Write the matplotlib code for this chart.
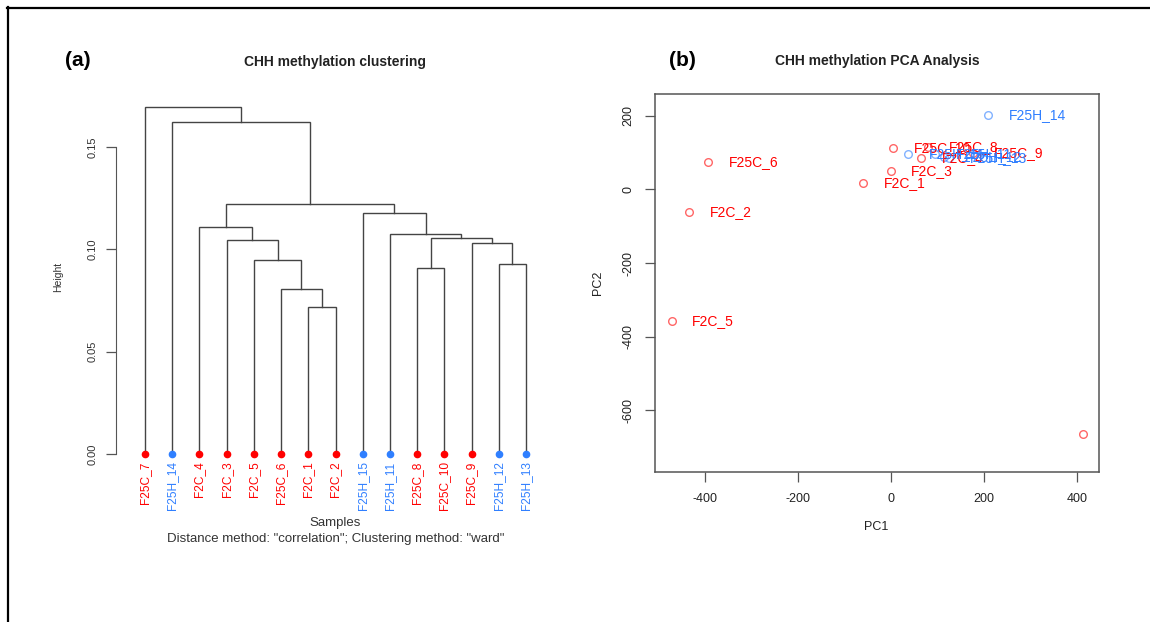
import matplotlib
matplotlib.use("Agg")
import matplotlib.pyplot as plt
from matplotlib.lines import Line2D
from matplotlib.transforms import offset_copy

plt.rcParams['font.family'] = ['Liberation Sans', 'DejaVu Sans']
plt.rcParams['axes.unicode_minus'] = False

W, H = 1150, 622
RED = "#FF0000"
BLUE = "#2F7FFF"

# ---- dendrogram data (leaf order as drawn) ----
leaves = ["F25C_7", "F25H_14", "F2C_4", "F2C_3", "F2C_5", "F25C_6", "F2C_1", "F2C_2",
          "F25H_15", "F25H_11", "F25C_8", "F25C_10", "F25C_9", "F25H_12", "F25H_13"]
leaf_colors = [RED, BLUE, RED, RED, RED, RED, RED, RED,
               BLUE, BLUE, RED, RED, RED, BLUE, BLUE]
# merges: (left, right, height); ints refer to earlier merges
merges = [
    ("F2C_1", "F2C_2", 0.0717),
    ("F25C_6", 0, 0.0806),
    ("F2C_5", 1, 0.0950),
    ("F2C_3", 2, 0.1046),
    ("F2C_4", 3, 0.1111),
    ("F25H_12", "F25H_13", 0.0929),
    ("F25C_8", "F25C_10", 0.0909),
    ("F25C_9", 5, 0.1031),
    (6, 7, 0.1054),
    ("F25H_11", 8, 0.1075),
    ("F25H_15", 9, 0.1176),
    (4, 10, 0.1223),
    ("F25H_14", 11, 0.1621),
    ("F25C_7", 12, 0.1697),
]

# ---- PCA data ----
pc_names = ["F25C_6", "F2C_2", "F2C_5", "F2C_1", "F2C_3", "F25H_14", "F25C_7",
            "F25C_10", "F25C_8", "F2C_4", "F25C_9",
            "F25H_15", "F25H_11", "F25H_12", "F25H_13"]
pc1 = [-394, -434, -472, -60, -1, 209, 413,
       5, 80, 64, 176,
       37, 95, 115, 125]
pc2 = [73, -62, -356, 18, 50, 201, -664,
       112, 115, 84, 99,
       95, 97, 88, 85]
pc_colors = [RED, RED, RED, RED, RED, BLUE, RED,
             RED, RED, RED, RED,
             BLUE, BLUE, BLUE, BLUE]


def fx(x):
    return x / W


def fy(y):
    return 1 - y / H


fig = plt.figure(figsize=(W / 100, H / 100), dpi=100)

# outer frame (top and left edges)
fig.add_artist(Line2D([fx(7), 1], [fy(7.5), fy(7.5)], color="black", lw=1.6))
fig.add_artist(Line2D([fx(7.5), fx(7.5)], [fy(7), 0], color="black", lw=1.6))

# ================= (a) dendrogram =================
ax1 = fig.add_axes([fx(116), fy(460), fx(552) - fx(116), fy(100) - fy(460)])
pos = {name: i + 1 for i, name in enumerate(leaves)}
centers = []
heights = []


def node(ref):
    if isinstance(ref, str):
        return pos[ref], 0.0
    return centers[ref], heights[ref]


for a, b, h in merges:
    xa, ha = node(a)
    xb, hb = node(b)
    ax1.plot([xa, xa, xb, xb], [ha, h, h, hb], color="#444444", lw=1.0,
             solid_joinstyle="miter")
    centers.append((xa + xb) / 2)
    heights.append(h)

for name, c in zip(leaves, leaf_colors):
    ax1.plot(pos[name], 0, "o", color=c, ms=4.5, clip_on=False, zorder=3)

ax1.set_xlim(1 - 29 / 27.2, 15 + 26 / 27.2)
ax1.set_ylim(-6 / 2046, 354 / 2046)
for s in ["top", "right", "bottom"]:
    ax1.spines[s].set_visible(False)
ax1.spines["left"].set_bounds(0, 0.15)
ax1.spines["left"].set_color("#555555")
ax1.set_yticks([0, 0.05, 0.10, 0.15])
ax1.set_yticklabels(["0.00", "0.05", "0.10", "0.15"], rotation=90, va="center",
                    fontsize=8, color="#333333")
ax1.tick_params(axis="y", length=7, width=0.9, color="#555555", pad=6)
ax1.set_xticks(range(1, len(leaves) + 1))
ax1.set_xticklabels(leaves, rotation=90, fontsize=8.6)
ax1.tick_params(axis="x", length=0, pad=1)
for lbl, c in zip(ax1.get_xticklabels(), leaf_colors):
    lbl.set_color(c)

fig.text(fx(58), fy(277), "Height", rotation=90, ha="center", va="center",
         fontsize=7.5, color="#333333")
fig.text(fx(335), fy(523), "Samples", ha="center", va="center", fontsize=9.5,
         color="#333333")
fig.text(fx(336), fy(539), 'Distance method: "correlation"; Clustering method: "ward"',
         ha="center", va="center", fontsize=9.5, color="#333333")
fig.text(fx(335), fy(62), "CHH methylation clustering", ha="center", va="center",
         fontsize=10, fontweight="bold", color="#222222")
fig.text(fx(78), fy(60), "(a)", ha="center", va="center", fontsize=15,
         fontweight="bold", color="black")

# ================= (b) PCA =================
ax2 = fig.add_axes([fx(655), fy(472), fx(1099) - fx(655), fy(94) - fy(472)])
label_tr = offset_copy(ax2.transData, fig=fig, x=15, y=0, units="points")
for x, y, c, n in zip(pc1, pc2, pc_colors, pc_names):
    ax2.plot(x, y, "o", mfc="none", mec=c, mew=1.0, ms=5.5, alpha=0.6)
    ax2.text(x, y, n, transform=label_tr, color=c, fontsize=10,
             va="center", ha="left", clip_on=True)

ax2.set_xlim(-507.5, 447.3)
ax2.set_ylim(-767, 258.6)
for s in ax2.spines.values():
    s.set_color("#555555")
    s.set_linewidth(1.1)
ax2.set_xticks([-400, -200, 0, 200, 400])
ax2.set_yticks([-600, -400, -200, 0, 200])
ax2.set_yticklabels(["-600", "-400", "-200", "0", "200"], rotation=90, va="center")
ax2.tick_params(length=7, width=0.9, color="#555555", labelsize=9,
                labelcolor="#222222", pad=8)
fig.text(fx(876), fy(527), "PC1", ha="center", va="center", fontsize=9,
         color="#222222")
fig.text(fx(598), fy(283), "PC2", rotation=90, ha="center", va="center",
         fontsize=9, color="#222222")
fig.text(fx(877), fy(61), "CHH methylation PCA Analysis", ha="center", va="center",
         fontsize=10, fontweight="bold", color="#222222")
fig.text(fx(682), fy(60), "(b)", ha="center", va="center", fontsize=15,
         fontweight="bold", color="black")

fig.savefig("out.png", dpi=100)
